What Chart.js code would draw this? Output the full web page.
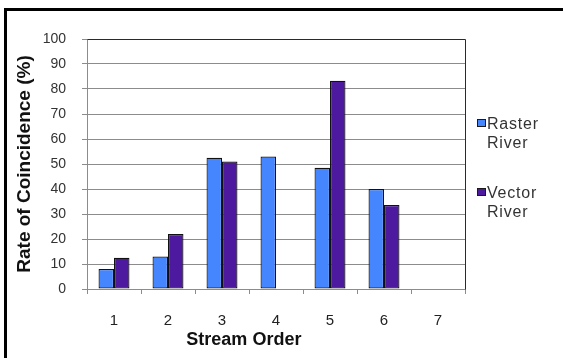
<!DOCTYPE html>
<html>
<head>
<meta charset="utf-8">
<script src="https://cdn.jsdelivr.net/npm/chart.js@4/dist/chart.umd.min.js"></script>
<style>
  html, body { margin: 0; padding: 0; background: #ffffff; }
  #wrap { position: relative; width: 563px; height: 358px; overflow: hidden; }
  canvas { display: block; }
</style>
</head>
<body>
<div id="wrap"><canvas id="chart" width="563" height="358"></canvas></div>
<script>
// Stream orders along the x axis
const categories = ['1', '2', '3', '4', '5', '6', '7'];

// Rate of coincidence (%) per stream order
const rasterRiver = [8, 13, 52.5, 53, 48.5, 40, null];
const vectorRiver = [12.5, 22, 51, null, 83.3, 33.6, null];

// Series names, axis titles and y axis range
const seriesNames = ['Raster River', 'Vector River'];
const xTitle = 'Stream Order';
const yTitle = 'Rate of Coincidence (%)';
const yMin = 0, yMax = 100, yStep = 10;

const rasterColor = '#4586ff';
const vectorColor = '#4c199f';

// Outer frame, plot-area top/right edge, x axis title and the two-line legend
const decorations = {
  id: 'decorations',
  afterDraw(chart) {
    const ctx = chart.ctx;
    const a = chart.chartArea;
    ctx.save();

    // plot area border (top and right edges)
    ctx.strokeStyle = '#2a2a2a';
    ctx.lineWidth = 1;
    ctx.beginPath();
    ctx.moveTo(Math.round(a.left) + 0.5, Math.round(a.top) + 0.5);
    ctx.lineTo(Math.round(a.right) + 0.5, Math.round(a.top) + 0.5);
    ctx.lineTo(Math.round(a.right) + 0.5, Math.round(a.bottom) + 0.5);
    ctx.stroke();

    // frame around the figure
    ctx.fillStyle = '#000000';
    ctx.fillRect(4, 8, chart.width, 3);
    ctx.fillRect(4, 8, 3, chart.height);

    // x axis title, set a little left of the plot centre
    ctx.fillStyle = '#111111';
    ctx.font = 'bold 18px "Liberation Sans", Arial, sans-serif';
    ctx.textAlign = 'center';
    ctx.textBaseline = 'middle';
    ctx.fillText(xTitle, a.left + (a.right - a.left) * 0.415, 340);

    // legend
    const x0 = a.right + 12;
    const rows = [119, 188];
    ctx.font = '16px "Liberation Sans", Arial, sans-serif';
    ctx.textBaseline = 'alphabetic';
    ctx.textAlign = 'left';
    if ('letterSpacing' in ctx) ctx.letterSpacing = '0.8px';
    chart.data.datasets.forEach((ds, i) => {
      const y = rows[i];
      ctx.fillStyle = ds.backgroundColor;
      ctx.fillRect(x0, y, 9, 8);
      ctx.strokeStyle = '#1a1a1a';
      ctx.lineWidth = 1;
      ctx.strokeRect(x0 + 0.5, y + 0.5, 8, 7);
      ctx.fillStyle = '#333333';
      const lines = ds.label.split(' ');
      lines.forEach((t, k) => {
        ctx.fillText(t, x0 + 10, y + 10 + k * 18.5);
      });
    });
    ctx.restore();
  }
};

new Chart(document.getElementById('chart'), {
  type: 'bar',
  data: {
    labels: categories,
    datasets: [
      {
        label: seriesNames[0],
        data: rasterRiver,
        backgroundColor: rasterColor,
        borderColor: '#111111',
        borderWidth: 1.2,
        borderSkipped: false
      },
      {
        label: seriesNames[1],
        data: vectorRiver,
        backgroundColor: vectorColor,
        borderColor: '#111111',
        borderWidth: 1.2,
        borderSkipped: false
      }
    ]
  },
  options: {
    responsive: false,
    animation: false,
    devicePixelRatio: 1,
    layout: { padding: { left: 0, top: 39, right: 98, bottom: 0 } },
    datasets: {
      bar: { categoryPercentage: 0.573, barPercentage: 1.0 }
    },
    plugins: {
      legend: { display: false },
      tooltip: { enabled: false },
      title: { display: false }
    },
    scales: {
      x: {
        afterFit(scale) { scale.height = 69; },
        grid: {
          offset: true,
          drawOnChartArea: false,
          drawTicks: true,
          tickLength: 5,
          color: '#8c8c8c'
        },
        border: { color: '#8c8c8c', width: 1 },
        ticks: {
          color: '#222222',
          padding: 18,
          font: { family: '"Liberation Sans", Arial, sans-serif', size: 15 }
        },
        title: { display: false }
      },
      y: {
        min: yMin,
        max: yMax,
        afterFit(scale) { scale.width = 87; },
        grid: {
          color: '#8c8c8c',
          drawTicks: true,
          tickLength: 5
        },
        border: { color: '#8c8c8c', width: 1 },
        ticks: {
          stepSize: yStep,
          color: '#333333',
          padding: 16,
          font: { family: '"Liberation Sans", Arial, sans-serif', size: 14 }
        },
        title: {
          display: true,
          text: yTitle,
          color: '#111111',
          padding: { top: 13, bottom: 0 },
          font: { family: '"Liberation Sans", Arial, sans-serif', size: 19, weight: 'bold' }
        }
      }
    }
  },
  plugins: [decorations]
});
</script>
</body>
</html>
